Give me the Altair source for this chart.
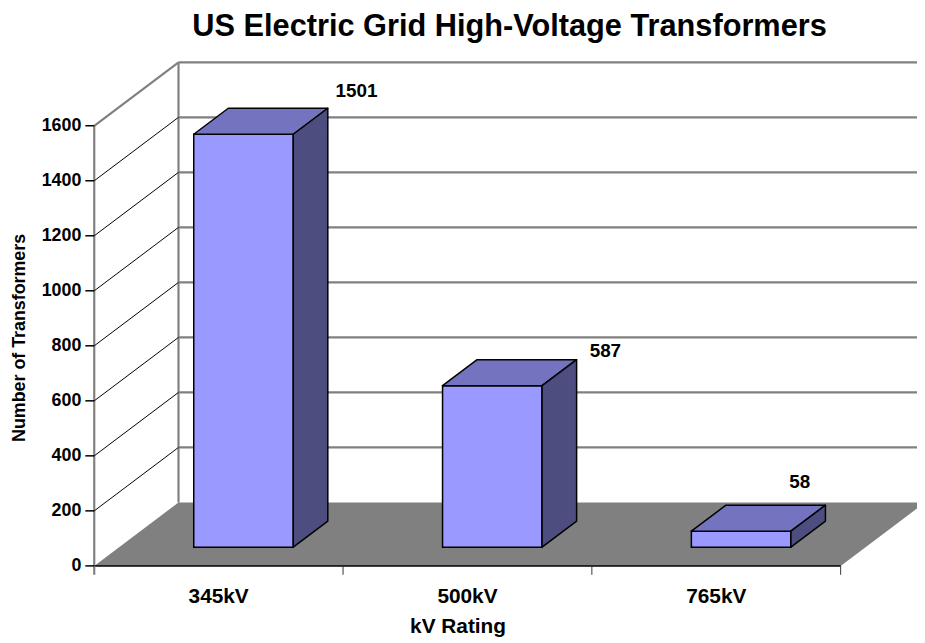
import altair as alt
import pandas as pd

# ---------------- data ----------------
categories = ["345kV", "500kV", "765kV"]
counts = [1501, 587, 58]
y_ticks = [0, 200, 400, 600, 800, 1000, 1200, 1400, 1600]

chart_title = "US Electric Grid High-Voltage Transformers"
x_title = "kV Rating"
y_title = "Number of Transformers"

# ---------------- style / geometry ----------------
FONT = "Liberation Sans"
W, H = 830, 512                 # plot area (px)
CAT_PX = 251.0                  # px per category on the front axis
Y_PX = 444.0 / 1600             # px per unit on the value axis
XMAX = W / CAT_PX
YMAX = H / Y_PX
DX = 85 / CAT_PX                # 3-D depth, x direction (data units)
DY = 64 / Y_PX                  # 3-D depth, y direction (data units)
F_FRONT, F_BACK = 0.295, 0.705  # depth fractions of bar front / back faces
HALF_W = 0.2                    # half bar width (category units)
label_offsets_px = [(29, -17.5), (29, -8.5), (-26, -23.5)]

C_FRONT, C_TOP, C_SIDE = "#9999FF", "#7373BF", "#4D4D80"
GRAY = "#808080"
N = len(categories)

xs = alt.Scale(domain=[0, XMAX], nice=False, zero=False)
ys = alt.Scale(domain=[0, YMAX], nice=False, zero=False)


def X(f):
    return alt.X(f, scale=xs, axis=None)


def Y(f):
    return alt.Y(f, scale=ys, axis=None)


# ---------------- derived tables ----------------
front_rows, top_rows, side_rows, label_rows = [], [], [], []
ddx = (F_BACK - F_FRONT) * DX
ddy = (F_BACK - F_FRONT) * DY
for i, (c, v) in enumerate(zip(categories, counts)):
    x0 = i + 0.5 - HALF_W + F_FRONT * DX
    x1 = i + 0.5 + HALF_W + F_FRONT * DX
    yb = F_FRONT * DY
    yt = v + F_FRONT * DY
    front_rows.append(dict(cat=c, x0=x0, x1=x1, yb=yb, yt=yt))
    top_rows += [dict(cat=c, yy=yt, xa=x0, xb=x1),
                 dict(cat=c, yy=yt + ddy, xa=x0 + ddx, xb=x1 + ddx)]
    side_rows += [dict(cat=c, xx=x1, ya=yb, yb2=yt),
                  dict(cat=c, xx=x1 + ddx, ya=yb + ddy, yb2=yt + ddy)]
    ox, oy = label_offsets_px[i]
    label_rows.append(dict(cat=c, label=str(v),
                           lx=x1 + ddx + ox / CAT_PX,
                           ly=yt + ddy - oy / Y_PX))

front_df = pd.DataFrame(front_rows)
top_df = pd.DataFrame(top_rows)
side_df = pd.DataFrame(side_rows)
label_df = pd.DataFrame(label_rows)

floor_df = pd.DataFrame([dict(fy=0, fx=0, fx2=N), dict(fy=DY, fx=DX, fx2=N + DX)])

gray_rows = [dict(x=DX, x2=XMAX, y=t + DY, y2=t + DY) for t in y_ticks[1:]]
gray_rows.append(dict(x=0, x2=DX, y=y_ticks[-1], y2=y_ticks[-1] + DY))
gray_rows.append(dict(x=DX, x2=DX, y=DY, y2=y_ticks[-1] + DY))
gray_rows.append(dict(x=0, x2=0, y=0, y2=y_ticks[-1]))
gray_df = pd.DataFrame(gray_rows)

diag_df = pd.DataFrame([dict(x=0, x2=DX, y=t, y2=t + DY) for t in y_ticks[1:-1]])
xline_df = pd.DataFrame([dict(x=0, x2=N, y=0)])
xtick_df = pd.DataFrame([dict(x=b, y=0) for b in range(1, N + 1)])
ytick0_df = pd.DataFrame([dict(x=0, y=0)])
ytick_df = pd.DataFrame([dict(x=0, y=t, lab=str(t)) for t in y_ticks])
xlab_df = pd.DataFrame([dict(x=i + 0.5, y=0, lab=c) for i, c in enumerate(categories)])
xtitle_df = pd.DataFrame([dict(t=x_title)])
ytitle_df = pd.DataFrame([dict(t=y_title)])
title_df = pd.DataFrame([dict(t=chart_title)])

# ---------------- layers ----------------
gray_lines = alt.Chart(gray_df).mark_rule(color=GRAY, strokeWidth=2.2).encode(
    x=X("x:Q"), x2="x2:Q", y=Y("y:Q"), y2="y2:Q")

diag_lines = alt.Chart(diag_df).mark_rule(color="black", strokeWidth=1).encode(
    x=X("x:Q"), x2="x2:Q", y=Y("y:Q"), y2="y2:Q")

floor = alt.Chart(floor_df).mark_area(orient="horizontal", color=GRAY, clip=True).encode(
    y=Y("fy:Q"), x=X("fx:Q"), x2="fx2:Q")

x_line = alt.Chart(xline_df).mark_rule(color="black", strokeWidth=1.5).encode(
    x=X("x:Q"), x2="x2:Q", y=Y("y:Q"))

x_ticks = alt.Chart(xtick_df).mark_rule(color="#333333", strokeWidth=1).encode(
    x=X("x:Q"), y=Y("y:Q"), y2=alt.value(H + 9))

y_tick0 = alt.Chart(ytick0_df).mark_rule(color=GRAY, strokeWidth=2.2).encode(
    x=X("x:Q"), y=Y("y:Q"), y2=alt.value(H + 9))

y_ticks_m = alt.Chart(ytick_df).mark_rule(color="black", strokeWidth=1.5).encode(
    x=X("x:Q"), x2=alt.value(-9), y=Y("y:Q"))

y_labels = alt.Chart(ytick_df).mark_text(
    font=FONT, fontSize=18, fontWeight="bold", color="black",
    align="right", baseline="middle", dx=-13).encode(
    x=X("x:Q"), y=Y("y:Q"), text="lab:N")

x_labels = alt.Chart(xlab_df).mark_text(
    font=FONT, fontSize=21, fontWeight="bold", color="black",
    align="center", baseline="alphabetic", dy=37).encode(
    x=X("x:Q"), y=Y("y:Q"), text="lab:N")

x_title_m = alt.Chart(xtitle_df).mark_text(
    font=FONT, fontSize=21, fontWeight="bold", color="black",
    align="center", baseline="alphabetic").encode(
    x=alt.value(367), y=alt.value(H + 68), text="t:N")

y_title_m = alt.Chart(ytitle_df).mark_text(
    font=FONT, fontSize=18, fontWeight="bold", color="black",
    align="center", baseline="alphabetic", angle=270).encode(
    x=alt.value(-70), y=alt.value(282), text="t:N")

title_m = alt.Chart(title_df).mark_text(
    font=FONT, fontSize=31, fontWeight="bold", color="black",
    align="center", baseline="alphabetic").encode(
    x=alt.value(419), y=alt.value(-23), text="t:N")

bar_front = alt.Chart(front_df).mark_rect(fill=C_FRONT, stroke="black", strokeWidth=1.5).encode(
    x=X("x0:Q"), x2="x1:Q", y=Y("yb:Q"), y2="yt:Q")

bar_top = alt.Chart(top_df).mark_area(orient="horizontal", fill=C_TOP, stroke="black",
                                      strokeWidth=1.5, strokeJoin="round").encode(
    y=Y("yy:Q"), x=X("xa:Q"), x2="xb:Q", detail="cat:N")

bar_side = alt.Chart(side_df).mark_area(orient="vertical", fill=C_SIDE, stroke="black",
                                        strokeWidth=1.5, strokeJoin="round").encode(
    x=X("xx:Q"), y=Y("ya:Q"), y2="yb2:Q", detail="cat:N")

labels = alt.Chart(label_df).mark_text(font=FONT, fontSize=19, fontWeight="bold",
                                       color="black", align="center", baseline="middle").encode(
    x=X("lx:Q"), y=Y("ly:Q"), text="label:N")

chart = alt.layer(
    gray_lines, diag_lines, floor, x_line, x_ticks, y_tick0, y_ticks_m,
    y_labels, x_labels, x_title_m, y_title_m, title_m,
    bar_front, bar_top, bar_side, labels
).properties(
    width=W, height=H,
    autosize=alt.AutoSizeParams(type="none"),
    padding={"left": 87, "top": 48, "right": 0, "bottom": 75},
    background="white",
).configure_view(strokeWidth=0)

chart.save("out.html", embed_options={"renderer": "svg", "actions": False})
